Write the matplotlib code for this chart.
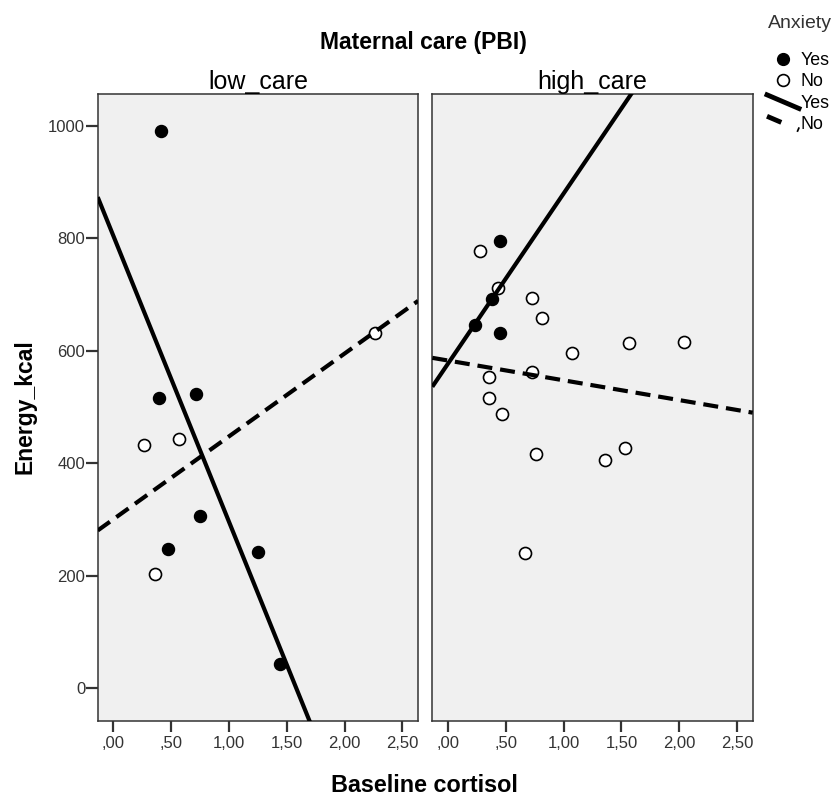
import numpy as np
import matplotlib
matplotlib.use('Agg')
import matplotlib.pyplot as plt
from matplotlib.lines import Line2D
from matplotlib.legend_handler import HandlerBase

plt.rcParams['font.family'] = ['Liberation Sans', 'DejaVu Sans']

# low_care panel
low_yes_x = [0.392, 0.718, 0.753, 0.470, 1.251, 1.439, 0.412]
low_yes_y = [517, 523, 306, 247, 242, 42, 991]
low_no_x = [0.262, 0.567, 0.360, 2.260]
low_no_y = [432, 443, 203, 632]

# high_care panel
high_yes_x = [0.446, 0.452, 0.381, 0.236]
high_yes_y = [796, 632, 693, 646]
high_no_x = [0.279, 0.429, 0.729, 0.810, 1.069, 1.568, 2.042, 0.729,
             0.357, 0.357, 0.470, 0.758, 1.361, 1.531, 0.669]
high_no_y = [777, 711, 694, 659, 597, 614, 616, 563,
             554, 517, 487, 416, 406, 427, 241]

xticks = [0, 0.5, 1.0, 1.5, 2.0, 2.5]
xticklabels = [',00', ',50', '1,00', '1,50', '2,00', '2,50']
yticks = [0, 200, 400, 600, 800, 1000]

W, H = 837, 797
fig = plt.figure(figsize=(W / 100, H / 100), dpi=100)

left1, left2, top, bottom, pw = 97.7, 432.3, 94, 720.7, 320.4
ax1 = fig.add_axes([left1 / W, 1 - bottom / H, pw / W, (bottom - top) / H])
ax2 = fig.add_axes([left2 / W, 1 - bottom / H, pw / W, (bottom - top) / H])

xlim = (-0.135, 2.635)
ylim = (-58, 1057)
dash = (3.6, 1.9)


def panel(ax, title, yx, yy, nx, ny):
	ax.set_facecolor('#f0f0f0')
	ax.scatter(yx, yy, s=75, c='black', edgecolors='black', linewidths=1, zorder=3)
	ax.scatter(nx, ny, s=75, c='white', edgecolors='black', linewidths=1.2, zorder=3)
	xs = np.array(xlim)
	b, a = np.polyfit(yx, yy, 1)
	ax.plot(xs, a + b * xs, color='black', lw=3, solid_capstyle='butt', zorder=4)
	b, a = np.polyfit(nx, ny, 1)
	ax.plot(xs, a + b * xs, color='black', lw=3, dashes=dash, zorder=4)
	ax.set_xlim(xlim)
	ax.set_ylim(ylim)
	ax.set_xticks(xticks)
	ax.set_xticklabels(xticklabels)
	ax.set_title(title, fontsize=18, pad=3.5)
	for s in ax.spines.values():
		s.set_color('#333333')
		s.set_linewidth(1.1)
	ax.tick_params(axis='x', length=8, width=1.6, color='#333333', pad=3,
	               labelsize=12, labelcolor='#333333')


panel(ax1, 'low_care', low_yes_x, low_yes_y, low_no_x, low_no_y)
panel(ax2, 'high_care', high_yes_x, high_yes_y, high_no_x, high_no_y)

ax1.set_yticks(yticks)
ax1.tick_params(axis='y', length=9, width=1.6, color='#333333', pad=0,
                labelsize=12, labelcolor='#333333')
ax2.set_yticks([])

fig.text(423 / W, 1 - 49 / H, 'Maternal care (PBI)', ha='center', va='baseline',
         fontsize=16.5, weight='bold')
fig.text(424 / W, 1 - 792 / H, 'Baseline cortisol', ha='center', va='baseline',
         fontsize=16.8, weight='bold')
fig.text(25 / W, 1 - 407 / H, 'Energy_kcal', ha='center', va='center',
         rotation=90, fontsize=16.5, weight='bold')


# SPSS style legend with slanted line keys
class HandlerSlant(HandlerBase):
	def create_artists(self, legend, orig_handle, xdescent, ydescent,
	                   width, height, fontsize, trans):
		x0, y0 = -xdescent, -ydescent
		line = Line2D([x0, x0 + width], [y0 + height * 1.05, y0 - height * 0.05])
		self.update_prop(line, orig_handle, legend)
		line.set_transform(trans)
		return [line]


h_yes = Line2D([], [], ls='none', marker='o', ms=8.5, mfc='black', mec='black')
h_no = Line2D([], [], ls='none', marker='o', ms=8.5, mfc='white', mec='black', mew=1.2)
h_fit_yes = Line2D([], [], color='black', lw=3.5)
h_fit_no = Line2D([], [], color='black', lw=3.5, dashes=(3.2, 3.6))

fig.text(800 / W, 1 - 24 / H, 'Anxiety', ha='center', va='center',
         fontsize=14, color='#333333')
fig.legend([h_yes, h_no, h_fit_yes, h_fit_no], ['Yes', 'No', 'Yes', 'No'],
           handler_map={h_fit_yes: HandlerSlant(), h_fit_no: HandlerSlant()},
           loc='upper left', bbox_to_anchor=(767 / W, 1 - 52 / H),
           frameon=False, fontsize=12.8, handlelength=1.8, handletextpad=0.1,
           labelspacing=0.25, borderpad=0, borderaxespad=0)

fig.savefig('out.png', dpi=100)
